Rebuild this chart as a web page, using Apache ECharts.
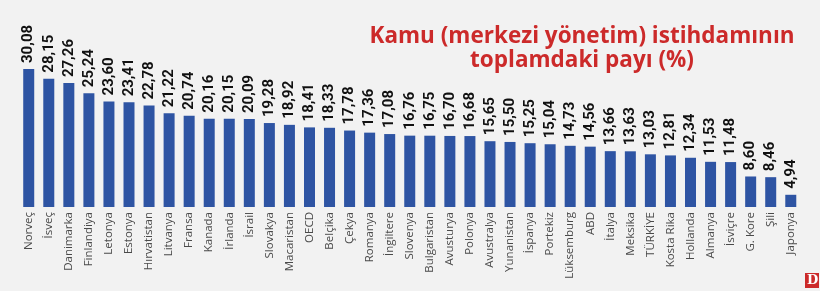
<!DOCTYPE html>
<html>
<head>
<meta charset="utf-8">
<script src="https://cdn.jsdelivr.net/npm/echarts@6/dist/echarts.min.js"></script>
<style>
html,body{margin:0;padding:0;background:#f2f2f2;}
#c{width:820px;height:291px;}
</style>
</head>
<body>
<div id="c"></div>
<script>
const categories = ["Norveç","İsveç","Danimarka","Finlandiya","Letonya","Estonya","Hırvatistan","Litvanya","Fransa","Kanada","İrlanda","İsrail","Slovakya","Macaristan","OECD","Belçika","Çekya","Romanya","İngiltere","Slovenya","Bulgaristan","Avusturya","Polonya","Avustralya","Yunanistan","İspanya","Portekiz","Lüksemburg","ABD","İtalya","Meksika","TÜRKİYE","Kosta Rika","Hollanda","Almanya","İsviçre","G. Kore","Şili","Japonya"];
const values = [30.08,28.15,27.26,25.24,23.60,23.41,22.78,21.22,20.74,20.16,20.15,20.09,19.28,18.92,18.41,18.33,17.78,17.36,17.08,16.76,16.75,16.70,16.68,15.65,15.50,15.25,15.04,14.73,14.56,13.66,13.63,13.03,12.81,12.34,11.53,11.48,8.60,8.46,4.94];
const titleText = "Kamu (merkezi yönetim) istihdamının\ntoplamdaki payı (%)";

const chart = echarts.init(document.getElementById('c'), null, {renderer:'canvas'});
chart.setOption({
  backgroundColor:'#f2f2f2',
  animation:false,
  title:{
    text:titleText,
    left:577, top:20, textAlign:'center',
    textStyle:{color:'#cc2a2a',fontFamily:'Open Sans',fontWeight:'bold',fontSize:22.5,lineHeight:24}
  },
  grid:{left:18.7,right:19.2,top:69,bottom:84},
  xAxis:{
    type:'category',data:categories,
    axisLine:{show:false},axisTick:{show:false},
    axisLabel:{rotate:90,margin:5,interval:0,color:'#4a4a4a',fontFamily:'Open Sans',fontSize:11.5}
  },
  yAxis:{type:'value',min:2.5,max:30.08,show:false,splitLine:{show:false}},
  series:[{
    type:'bar',data:values,barWidth:11,
    itemStyle:{color:'#2e54a3'},
    label:{
      show:true,position:'top',rotate:90,align:'left',verticalAlign:'middle',distance:6,
      color:'#111',fontFamily:'Roboto',fontWeight:'bold',fontSize:15,
      formatter:p=>p.value.toFixed(2).replace('.',',')
    }
  }],
  graphic:[
    {type:'rect',left:805,top:273,shape:{width:14,height:15},style:{fill:'#cc2a2a'}},
    {type:'text',left:807,top:274,style:{text:'D',fill:'#fff',font:'bold 13px "DejaVu Serif"'}}
  ]
});
</script>
</body>
</html>
